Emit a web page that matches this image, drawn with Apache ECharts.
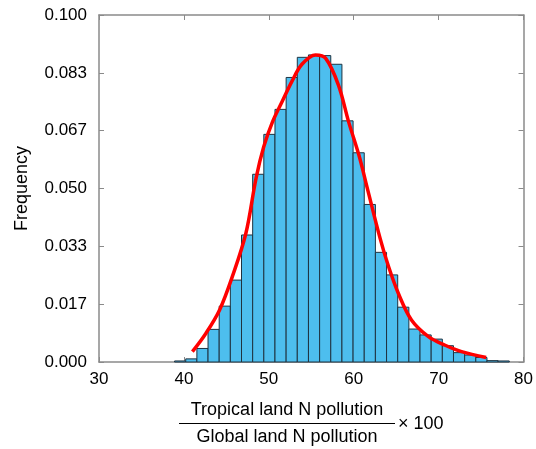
<!DOCTYPE html>
<html>
<head>
<meta charset="utf-8">
<script src="https://cdn.jsdelivr.net/npm/echarts@6/dist/echarts.min.js"></script>
<style>html,body{margin:0;padding:0;background:#fff;}#c{width:536px;height:449px;}</style>
</head>
<body>
<div id="c"></div>
<script>
// Histogram: relative frequency per bin (30 bins)
const firstEdge = 38.90;
const binWidth = 1.314;
const freq = [0.0003, 0.0009, 0.0039, 0.0094, 0.0161, 0.0236, 0.0366, 0.0541, 0.0656, 0.0728,
              0.0820, 0.0878, 0.0885, 0.0883, 0.0858, 0.0695, 0.0603, 0.0454, 0.0316, 0.0251,
              0.0158, 0.0095, 0.0078, 0.0066, 0.0047, 0.0027, 0.0020, 0.0013, 0.0004, 0.0003];
// Fitted curve (red)
const curveX = [41.0, 42.6, 44.2, 45.7, 47.3, 48.5, 49.4, 50.4, 51.6, 52.75, 53.9, 55.5, 56.7,
                58.2, 59.4, 60.6, 61.7, 63.1, 64.1, 65.25, 66.8, 68.8, 70.7, 72.7, 75.6];
const curveY = [0.0030, 0.0083, 0.0150, 0.0246, 0.0371, 0.0530, 0.0620, 0.0690, 0.0752, 0.0810, 0.0858, 0.0885, 0.0875,
                0.0798, 0.0692, 0.0597, 0.0491, 0.0357, 0.0275, 0.0198, 0.0121, 0.0073, 0.0049, 0.0030, 0.0013];
const xMin = 30, xMax = 80, xStep = 10;
const yMin = 0, yMax = 0.1, yStep = 0.1 / 6;

const histData = freq.map((f, i) => [firstEdge + i * binWidth, firstEdge + (i + 1) * binWidth, f]);
const curveData = curveX.map((x, i) => [x, curveY[i]]);

const FONT = 'Liberation Sans, Arial, Helvetica, sans-serif';
const axisColor = '#8a8a8a';
const lineStyle = { color: axisColor, width: 1.5 };

const chart = echarts.init(document.getElementById('c'), null, { renderer: 'canvas' });
chart.setOption({
  animation: false,
  backgroundColor: '#fff',
  grid: { left: 99, right: 10, top: 15, bottom: 87, containLabel: false },
  xAxis: [
    { type: 'value', min: xMin, max: xMax, interval: xStep, position: 'bottom',
      axisLine: { show: true, onZero: false, lineStyle },
      axisTick: { show: true, inside: true, length: 5, lineStyle: { color: axisColor } },
      axisLabel: { color: '#000', fontSize: 17, fontFamily: FONT, margin: 9 },
      splitLine: { show: false } },
    { type: 'value', min: xMin, max: xMax, interval: xStep, position: 'top',
      axisLine: { show: true, onZero: false, lineStyle },
      axisTick: { show: true, inside: true, length: 5, lineStyle: { color: axisColor } },
      axisLabel: { show: false }, splitLine: { show: false } }
  ],
  yAxis: [
    { type: 'value', min: yMin, max: yMax, interval: yStep, position: 'left',
      name: 'Frequency', nameLocation: 'middle', nameGap: 68, nameRotate: 90,
      nameTextStyle: { color: '#000', fontSize: 18, fontFamily: FONT },
      axisLine: { show: true, onZero: false, lineStyle },
      axisTick: { show: true, inside: true, length: 5, lineStyle: { color: axisColor } },
      axisLabel: { color: '#000', fontSize: 17, fontFamily: FONT, margin: 12,
        showMaxLabel: true, formatter: v => v.toFixed(3) },
      splitLine: { show: false } },
    { type: 'value', min: yMin, max: yMax, interval: yStep, position: 'right',
      axisLine: { show: true, onZero: false, lineStyle },
      axisTick: { show: true, inside: true, length: 5, lineStyle: { color: axisColor } },
      axisLabel: { show: false }, splitLine: { show: false } }
  ],
  series: [
    { type: 'custom', xAxisIndex: 0, yAxisIndex: 0, data: histData, z: 2,
      renderItem: function (params, api) {
        const p0 = api.coord([api.value(0), api.value(2)]);
        const p1 = api.coord([api.value(1), 0]);
        return { type: 'rect',
          shape: { x: p0[0], y: p0[1], width: p1[0] - p0[0], height: p1[1] - p0[1] },
          style: { fill: '#4DBEEE', stroke: '#1f3340', lineWidth: 1 } };
      } },
    { type: 'line', xAxisIndex: 0, yAxisIndex: 0, data: curveData, smooth: 0.35,
      symbol: 'none', z: 5, lineStyle: { color: '#ff0000', width: 3.5 } }
  ],
  graphic: [
    { type: 'text', x: 287, y: 410, style: { text: 'Tropical land N pollution', fill: '#000',
        font: '18px ' + FONT, align: 'center', verticalAlign: 'middle' } },
    { type: 'line', shape: { x1: 179, y1: 423.5, x2: 395, y2: 423.5 }, style: { stroke: '#000', lineWidth: 1.2 } },
    { type: 'text', x: 287, y: 437, style: { text: 'Global land N pollution', fill: '#000',
        font: '18px ' + FONT, align: 'center', verticalAlign: 'middle' } },
    { type: 'text', x: 398, y: 424, style: { text: '× 100', fill: '#000',
        font: '18px ' + FONT, align: 'left', verticalAlign: 'middle' } }
  ]
});
</script>
</body>
</html>
